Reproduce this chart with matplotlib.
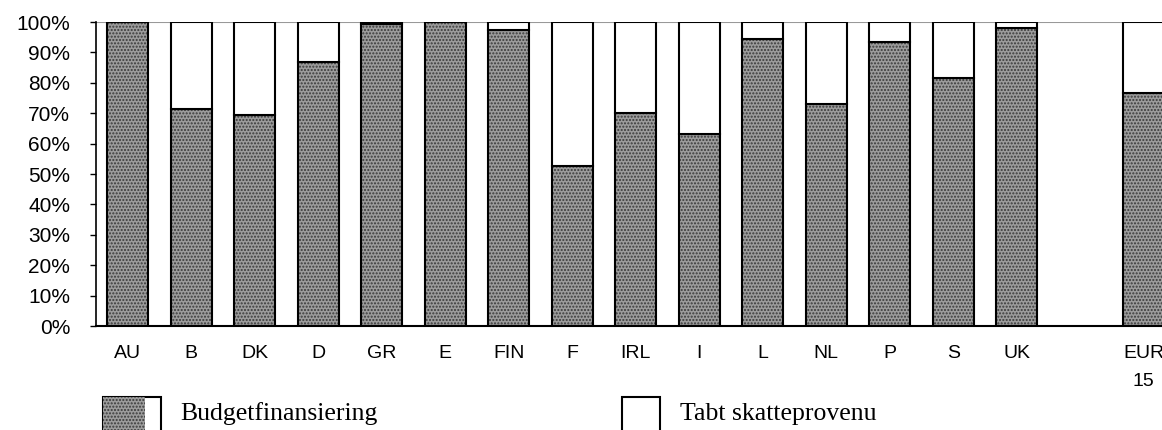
import matplotlib.pyplot as plt
import numpy as np
from matplotlib.patches import Rectangle

# landekoder og andel budgetfinansiering (%)
countries = ['AU', 'B', 'DK', 'D', 'GR', 'E', 'FIN', 'F', 'IRL', 'I', 'L', 'NL', 'P', 'S', 'UK', 'EUR\n15']
budget = [100, 71.5, 69.5, 87, 99.5, 100, 97.5, 52.5, 70, 63, 94.5, 73, 93.5, 81.5, 98, 76.5]
slots = [0, 1, 2, 3, 4, 5, 6, 7, 8, 9, 10, 11, 12, 13, 14, 16]
yticks = [0, 10, 20, 30, 40, 50, 60, 70, 80, 90, 100]

budget = np.array(budget)
tabt = 100 - budget

W, H = 1162, 430
fig = plt.figure(figsize=(W / 100, H / 100), dpi=100)
plt.rcParams['hatch.linewidth'] = 1.0

ax = fig.add_axes([96 / W, 104 / H, 1079.5 / W, 304 / H])
bw = 0.65
fill_c = '#9c9c9c'
dot_c = '#3a3a3a'

# mønstret del (budgetfinansiering)
ax.bar(slots, budget, width=bw, color=fill_c, hatch='.....', edgecolor=dot_c, linewidth=0)
ax.bar(slots, budget, width=bw, fill=False, edgecolor='black', linewidth=1.5)
# hvid del (tabt skatteprovenu)
ax.bar(slots, tabt, bottom=budget, width=bw, color='white', edgecolor='black', linewidth=1.5)

ax.axhline(100, color='#999999', linewidth=1.5, zorder=0)
ax.set_xlim(-0.5, 16.5)
ax.set_ylim(0, 100)
ax.set_yticks(yticks)
ax.set_yticklabels([f'{v}%' for v in yticks], fontsize=15, family='Liberation Sans')
ax.set_xticks(slots)
ax.set_xticklabels(countries, fontsize=14, family='Liberation Sans', linespacing=1.85)
ax.tick_params(axis='x', length=0, pad=14)
ax.tick_params(axis='y', length=4.5, width=1, direction='out', pad=14)
for s in ['top', 'right']:
    ax.spines[s].set_visible(False)
ax.spines['left'].set_linewidth(1.2)
ax.spines['bottom'].set_linewidth(1.5)

# forklaring under figuren
def fx(p):
    return p / W

def fy(p):
    return 1 - p / H

fig.add_artist(Rectangle((fx(103), fy(432)), fx(58), 35 / H, transform=fig.transFigure,
                         facecolor='white', edgecolor='black', linewidth=1.5, clip_on=False))
fig.add_artist(Rectangle((fx(103), fy(432)), fx(42), 35 / H, transform=fig.transFigure,
                         facecolor=fill_c, hatch='.....', edgecolor=dot_c, linewidth=0, clip_on=False))
fig.text(fx(180), fy(420), 'Budgetfinansiering', fontsize=18.5, family='Liberation Serif', va='baseline')
fig.add_artist(Rectangle((fx(622), fy(432)), fx(38), 35 / H, transform=fig.transFigure,
                         facecolor='white', edgecolor='black', linewidth=1.5, clip_on=False))
fig.text(fx(680), fy(420), 'Tabt skatteprovenu', fontsize=18.5, family='Liberation Serif', va='baseline')

fig.savefig('out.png', dpi=100)
